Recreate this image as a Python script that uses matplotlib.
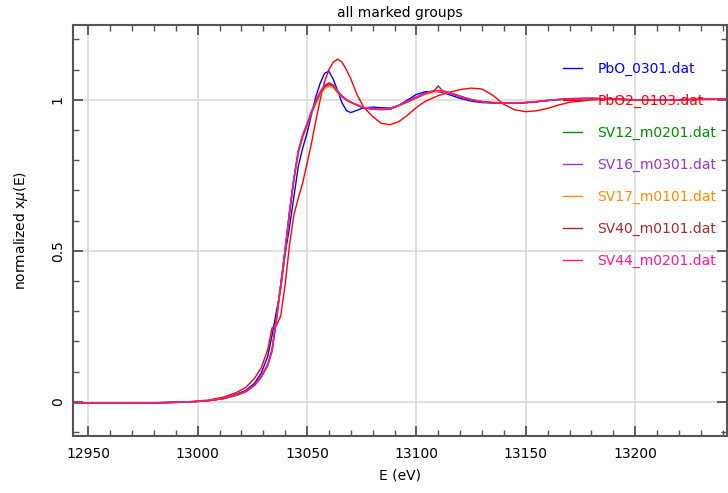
import numpy as np
import matplotlib
matplotlib.use("Agg")
import matplotlib.pyplot as plt
from matplotlib.ticker import MultipleLocator

# energy grid (eV)
energy = [12943, 12960, 12980, 12995, 13005, 13012, 13018, 13022, 13026, 13029,
          13032, 13034, 13036, 13038, 13040, 13042, 13044, 13046, 13048, 13050,
          13052, 13054, 13056, 13058, 13060, 13062, 13064, 13066, 13068, 13070,
          13073, 13076, 13080, 13084, 13088, 13092, 13096, 13100, 13104, 13108,
          13110, 13112, 13116, 13120, 13125, 13130, 13135, 13140, 13145, 13150,
          13155, 13160, 13165, 13170, 13180, 13190, 13200, 13215, 13230, 13242]

pbo_0301 = [-0.003, -0.004, -0.003, -0.001, 0.004, 0.012, 0.026, 0.038, 0.062, 0.095,
            0.150, 0.220, 0.300, 0.375, 0.490, 0.580, 0.680, 0.780, 0.840, 0.890,
            0.950, 1.010, 1.055, 1.088, 1.095, 1.068, 1.030, 0.990, 0.965, 0.958,
            0.966, 0.974, 0.976, 0.974, 0.973, 0.982, 1.000, 1.018, 1.027, 1.028,
            1.027, 1.024, 1.015, 1.005, 0.996, 0.991, 0.990, 0.990, 0.990, 0.991,
            0.994, 0.998, 1.001, 1.003, 1.004, 1.002, 1.000, 1.000, 1.002, 1.003]

pbo2_0103 = [-0.003, -0.004, -0.003, 0.000, 0.006, 0.016, 0.032, 0.048, 0.078, 0.112,
             0.172, 0.245, 0.252, 0.285, 0.390, 0.520, 0.620, 0.675, 0.725, 0.790,
             0.855, 0.930, 1.000, 1.060, 1.100, 1.125, 1.135, 1.125, 1.100, 1.070,
             1.015, 0.975, 0.945, 0.922, 0.918, 0.928, 0.950, 0.975, 0.995, 1.008,
             1.014, 1.019, 1.027, 1.034, 1.039, 1.036, 1.015, 0.985, 0.967, 0.961,
             0.964, 0.972, 0.983, 0.992, 1.000, 1.002, 1.000, 1.000, 1.001, 1.002]

sv12_m0201 = [-0.003, -0.004, -0.003, -0.001, 0.004, 0.011, 0.023, 0.034, 0.055, 0.082,
              0.122, 0.170, 0.273, 0.388, 0.503, 0.628, 0.738, 0.828, 0.880, 0.918,
              0.958, 0.993, 1.023, 1.043, 1.052, 1.046, 1.027, 1.011, 1.000, 0.992,
              0.982, 0.974, 0.970, 0.969, 0.970, 0.982, 0.995, 1.008, 1.022, 1.030,
              1.031, 1.029, 1.022, 1.012, 1.001, 0.994, 0.991, 0.990, 0.990, 0.991,
              0.994, 0.998, 1.001, 1.004, 1.005, 1.003, 1.000, 1.000, 1.002, 1.003]

sv16_m0301 = [-0.003, -0.004, -0.003, -0.001, 0.004, 0.011, 0.023, 0.034, 0.056, 0.083,
              0.123, 0.172, 0.276, 0.390, 0.505, 0.630, 0.740, 0.830, 0.882, 0.920,
              0.960, 0.995, 1.025, 1.046, 1.055, 1.049, 1.029, 1.013, 1.001, 0.993,
              0.983, 0.974, 0.969, 0.968, 0.969, 0.983, 0.997, 1.010, 1.023, 1.030,
              1.030, 1.028, 1.020, 1.010, 1.000, 0.993, 0.990, 0.989, 0.990, 0.991,
              0.994, 0.998, 1.001, 1.004, 1.005, 1.003, 1.000, 1.000, 1.002, 1.003]

sv17_m0101 = [-0.003, -0.004, -0.003, -0.001, 0.004, 0.011, 0.022, 0.033, 0.054, 0.080,
              0.119, 0.166, 0.268, 0.383, 0.498, 0.623, 0.733, 0.823, 0.875, 0.913,
              0.953, 0.987, 1.016, 1.036, 1.045, 1.040, 1.023, 1.009, 0.999, 0.992,
              0.983, 0.975, 0.971, 0.970, 0.971, 0.982, 0.993, 1.005, 1.018, 1.026,
              1.028, 1.027, 1.021, 1.012, 1.002, 0.995, 0.992, 0.991, 0.991, 0.992,
              0.995, 0.999, 1.002, 1.004, 1.005, 1.003, 1.000, 1.000, 1.002, 1.003]

sv40_m0101 = [-0.003, -0.004, -0.003, -0.001, 0.004, 0.011, 0.023, 0.034, 0.055, 0.082,
              0.121, 0.170, 0.272, 0.387, 0.502, 0.627, 0.737, 0.827, 0.879, 0.917,
              0.957, 0.992, 1.022, 1.043, 1.051, 1.046, 1.027, 1.011, 1.000, 0.992,
              0.982, 0.973, 0.969, 0.968, 0.969, 0.981, 0.994, 1.007, 1.021, 1.030,
              1.046, 1.030, 1.022, 1.012, 1.001, 0.994, 0.991, 0.990, 0.990, 0.991,
              0.994, 0.998, 1.001, 1.004, 1.005, 1.003, 1.000, 1.000, 1.002, 1.003]

sv44_m0201 = [-0.003, -0.004, -0.003, -0.001, 0.004, 0.012, 0.024, 0.035, 0.056, 0.084,
              0.124, 0.174, 0.278, 0.392, 0.507, 0.632, 0.742, 0.832, 0.884, 0.922,
              0.962, 0.997, 1.027, 1.048, 1.057, 1.050, 1.030, 1.013, 1.001, 0.993,
              0.983, 0.974, 0.970, 0.969, 0.970, 0.982, 0.995, 1.008, 1.022, 1.030,
              1.031, 1.029, 1.022, 1.012, 1.001, 0.994, 0.991, 0.990, 0.990, 0.991,
              0.994, 0.998, 1.001, 1.004, 1.005, 1.003, 1.000, 1.000, 1.002, 1.003]

labels = ["PbO_0301.dat", "PbO2_0103.dat", "SV12_m0201.dat", "SV16_m0301.dat",
          "SV17_m0101.dat", "SV40_m0101.dat", "SV44_m0201.dat"]
series = [pbo_0301, pbo2_0103, sv12_m0201, sv16_m0301, sv17_m0101, sv40_m0101, sv44_m0201]
colors = ["#0000ff", "#ff0000", "#008b00", "#9a32cd", "#ff8c00", "#a52a2a", "#ff1493"]

fig = plt.figure(figsize=(7.28, 4.93), dpi=100)
ax = fig.add_axes([73/728, 57/493, 654/728, 411/493])

for y, c, lab in zip(series, colors, labels):
    ax.plot(energy, y, color=c, lw=1.0, label=lab)

ax.set_xlim(12943, 13242)
ax.set_ylim(-0.113, 1.248)
ax.xaxis.set_major_locator(MultipleLocator(50))
ax.xaxis.set_minor_locator(MultipleLocator(10))
ax.yaxis.set_major_locator(MultipleLocator(0.5))
ax.yaxis.set_minor_locator(MultipleLocator(0.1))
ax.grid(True, which="major", color="#dddddd", lw=1.3)
ax.set_axisbelow(True)
ax.tick_params(which="both", direction="in", top=True, right=True, colors="#555555",
               labelcolor="black", labelsize=10)
ax.tick_params(which="major", length=7, width=1.3)
ax.tick_params(which="minor", length=4, width=1.0)
ax.tick_params(axis="x", which="major", pad=8)
ax.tick_params(axis="y", which="major", pad=6)
ax.set_yticks([0, 0.5, 1])
ax.set_yticklabels(["0", "0.5", "1"], rotation=90, va="center")
for s in ax.spines.values():
    s.set_color("#555555")
    s.set_linewidth(1.5)

ax.set_xlabel("E (eV)", fontsize=10, labelpad=5)
ax.set_ylabel("normalized x$\\mu$(E)", fontsize=10, labelpad=15)
ax.set_title("all marked groups", fontsize=10, pad=6)

leg = ax.legend(loc="upper left", bbox_to_anchor=(0.749, 0.91), frameon=False,
                fontsize=10, handlelength=1.4, handletextpad=1.1, labelspacing=1.29,
                borderpad=0, borderaxespad=0, labelcolor="linecolor")

fig.savefig("out.png", dpi=100)
